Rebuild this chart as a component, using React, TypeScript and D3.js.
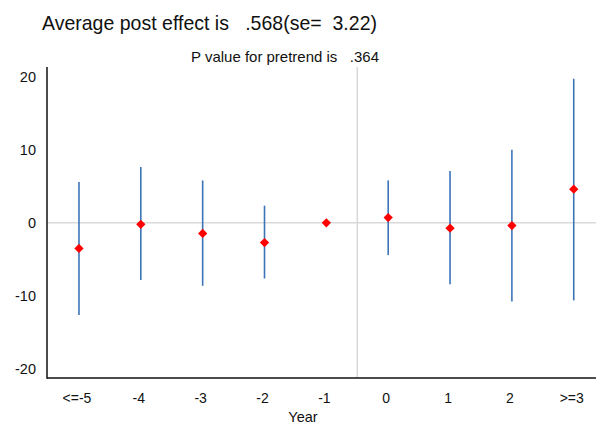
import { useEffect, useRef } from 'react'
import * as d3 from 'd3'

const years = ['<=-5', '-4', '-3', '-2', '-1', '0', '1', '2', '>=3']
const estimates = [-3.5, -0.2, -1.45, -2.7, 0, 0.72, -0.73, -0.37, 4.6]
const ciLow = [-12.6, -7.8, -8.6, -7.6, 0, -4.4, -8.4, -10.75, -10.6]
const ciHigh = [5.6, 7.65, 5.8, 2.35, 0, 5.8, 7.1, 10.0, 19.7]
const yTicks = [-20, -10, 0, 10, 20]

const titleText = 'Average post effect is   .568(se=  3.22)'
const subtitleText = 'P value for pretrend is   .364'

export default function App() {
  const svgRef = useRef<SVGSVGElement>(null)

  useEffect(() => {
    const svg = d3.select(svgRef.current)
    svg.selectAll('*').remove()
    const w = 596, h = 425
    const L = 47, R = 596, T = 67, B = 378
    const font = '"Liberation Sans", Arial, sans-serif'

    const xSc = d3.scaleLinear().domain([-0.517, 8.36]).range([L, R])
    const ySc = d3.scaleLinear().domain([-21.2, 21.3]).range([B, T])

    svg.attr('width', w).attr('height', h)
    svg.append('rect').attr('width', w).attr('height', h).attr('fill', '#fff')

    // reference lines
    svg.append('line').attr('x1', L).attr('x2', R).attr('y1', ySc(0)).attr('y2', ySc(0))
      .attr('stroke', '#d9d9d9').attr('stroke-width', 1.5)
    svg.append('line').attr('x1', xSc(4.5)).attr('x2', xSc(4.5)).attr('y1', T).attr('y2', B)
      .attr('stroke', '#d9d9d9').attr('stroke-width', 1.5)

    // CIs
    years.forEach((_, i) => {
      if (ciHigh[i] === ciLow[i]) return
      svg.append('line').attr('x1', xSc(i)).attr('x2', xSc(i))
        .attr('y1', ySc(ciHigh[i])).attr('y2', ySc(ciLow[i]))
        .attr('stroke', '#3c74b8').attr('stroke-width', 1.6)
    })

    // points
    const diamond = d3.symbol().type(d3.symbolDiamond2).size(55)
    years.forEach((_, i) => {
      svg.append('path').attr('d', diamond()!)
        .attr('transform', `translate(${xSc(i)},${ySc(estimates[i])})`)
        .attr('fill', '#ff0000')
    })

    // axes
    svg.append('line').attr('x1', L).attr('x2', L).attr('y1', T).attr('y2', B + 0.75)
      .attr('stroke', '#111').attr('stroke-width', 1.5)
    svg.append('line').attr('x1', L).attr('x2', R).attr('y1', B).attr('y2', B)
      .attr('stroke', '#111').attr('stroke-width', 1.5)

    yTicks.forEach(t => {
      svg.append('text').attr('x', 36).attr('y', ySc(t)).attr('dy', '0.35em')
        .attr('text-anchor', 'end').attr('font-family', font).attr('font-size', 14.5)
        .attr('fill', '#111').text(String(t))
    })
    years.forEach((lbl, i) => {
      svg.append('text').attr('x', xSc(i) - 2).attr('y', 398).attr('dy', '0.35em')
        .attr('text-anchor', 'middle').attr('font-family', font).attr('font-size', 14)
        .attr('fill', '#111').text(lbl)
    })
    svg.append('text').attr('x', 303).attr('y', 417).attr('dy', '0.35em')
      .attr('text-anchor', 'middle').attr('font-family', font).attr('font-size', 14.5)
      .attr('fill', '#111').text('Year')

    svg.append('text').attr('x', 42).attr('y', 30).attr('font-family', font)
      .attr('font-size', 21).attr('fill', '#111').style('white-space', 'pre')
      .attr('textLength', 335).attr('lengthAdjust', 'spacingAndGlyphs').text(titleText)
    svg.append('text').attr('x', 191).attr('y', 62).attr('font-family', font)
      .attr('font-size', 15).attr('fill', '#111').style('white-space', 'pre')
      .attr('textLength', 188).attr('lengthAdjust', 'spacingAndGlyphs').text(subtitleText)
  }, [])

  return (
    <div style={{ position: 'absolute', left: 0, top: 0 }}>
      <svg ref={svgRef} style={{ display: 'block' }} />
    </div>
  )
}
